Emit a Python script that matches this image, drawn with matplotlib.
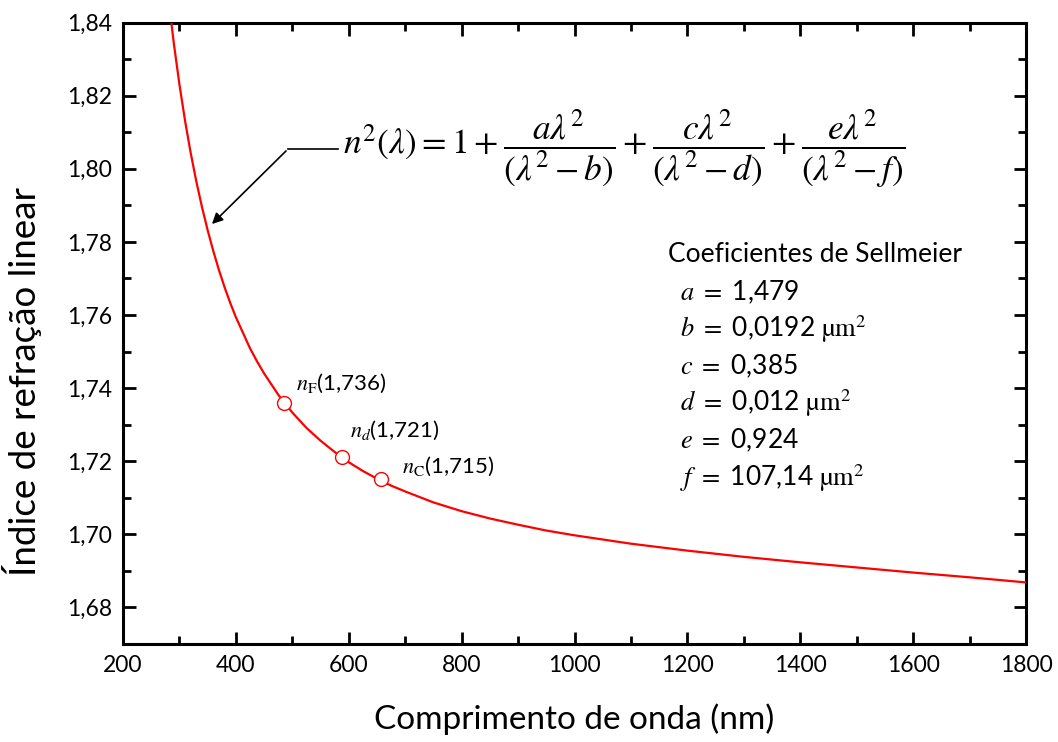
import matplotlib
matplotlib.use("Agg")
import matplotlib.pyplot as plt
from matplotlib.ticker import MultipleLocator, FuncFormatter

# Data (wavelength in nm, linear refractive index)
wavelength_nm = [270, 280, 290, 300, 310, 320, 330, 340, 350, 360, 370, 380, 390,
                 400, 425, 437.5, 450, 475, 500, 525, 550, 575, 600, 625, 650, 675,
                 700, 750, 800, 850, 900, 950, 1000, 1100, 1200, 1300, 1400, 1500,
                 1600, 1700, 1800]
refr_index = [1.8623, 1.8473, 1.8344, 1.8231, 1.8131, 1.8043, 1.7965, 1.7895,
              1.7832, 1.7775, 1.7723, 1.7676, 1.7633, 1.7594, 1.7509, 1.7473,
              1.7440, 1.7382, 1.7333, 1.7291, 1.7256, 1.7225, 1.7197, 1.7173,
              1.7152, 1.7133, 1.7117, 1.7087, 1.7063, 1.7043, 1.7026, 1.7010,
              1.6997, 1.6974, 1.6955, 1.6938, 1.6923, 1.6909, 1.6895, 1.6882,
              1.6868]

# Fraunhofer lines
line_wl = [486.1, 587.6, 656.3]
line_n = [1.736, 1.721, 1.715]
line_labels = [r"$n_{\mathrm{F}}$(1,736)", r"$n_{d}$(1,721)", r"$n_{\mathrm{C}}$(1,715)"]

coef_title = "Coeficientes de Sellmeier"
coef_lines = [r"$a\ =$ 1,479", r"$b\ =$ 0,0192 $\mathrm{µm}^2$", r"$c\ =$ 0,385",
              r"$d\ =$ 0,012 $\mathrm{µm}^2$", r"$e\ =$ 0,924", r"$f\ =$ 107,14 $\mathrm{µm}^2$"]

W, H = 1058, 742
plt.rcParams['font.family'] = ['Lato', 'DejaVu Sans']
plt.rcParams['mathtext.fontset'] = 'stix'

fig = plt.figure(figsize=(W / 100, H / 100), dpi=100)
ax = fig.add_axes([123 / W, 1 - 643.8 / H, (1026 - 123) / W, (643.8 - 22.7) / H])

ax.plot(wavelength_nm, refr_index, color='#ff0000', lw=1.6, zorder=3)
ax.plot(line_wl, line_n, 'o', ms=10, mfc='white', mec='#ff0000', mew=1.0, zorder=4)

ax.set_xlim(200, 1800)
ax.set_ylim(1.67, 1.84)
ax.xaxis.set_major_locator(MultipleLocator(200))
ax.xaxis.set_minor_locator(MultipleLocator(100))
ax.yaxis.set_major_locator(MultipleLocator(0.02))
ax.yaxis.set_minor_locator(MultipleLocator(0.01))
ax.yaxis.set_major_formatter(FuncFormatter(lambda v, p: f"{v:.2f}".replace('.', ',')))
ax.tick_params(which='both', direction='in', top=True, right=True, width=2,
               labelsize=16.5, pad=8)
ax.tick_params(which='major', length=9)
ax.tick_params(which='minor', length=5.5)
for s in ax.spines.values():
    s.set_linewidth(2.2)

ax.set_xlabel("Comprimento de onda (nm)", fontsize=24, labelpad=20)
ax.set_ylabel("Índice de refração linear", fontsize=26.5)
ax.yaxis.set_label_coords((42 - 123) / 903, 1 - (381 - 22.7) / 621.1)

def px(x, y):
    return (x / W, 1 - y / H)

# label for the points
label_pos = [(296, 383), (350, 430), (402, 466)]
for (x, y), t in zip(label_pos, line_labels):
    fig.text(*px(x, y), t, fontsize=16, ha='left', va='center')

# formula
fig.text(*px(343, 150),
         r"$n^2(\lambda)=1+\dfrac{a\lambda^2}{(\lambda^2-b)}+\dfrac{c\lambda^2}{(\lambda^2-d)}+\dfrac{e\lambda^2}{(\lambda^2-f)}$",
         fontsize=25.5, ha='left', va='center')

# annotation arrow
fig.add_artist(plt.Line2D([288 / W, 338 / W], [1 - 149 / H, 1 - 149 / H], color='black', lw=1.2))
ax.annotate("", xy=px(210, 226), xycoords='figure fraction',
            xytext=px(288, 149), textcoords='figure fraction',
            arrowprops=dict(arrowstyle='-|>', color='black', lw=1.2, mutation_scale=16))

# coefficients
fig.text(*px(668, 255), coef_title, fontsize=19, ha='left', va='center')
for i, t in enumerate(coef_lines):
    fig.text(*px(680, 292 + i * 37.2), t, fontsize=19, ha='left', va='center')

fig.savefig("out.png", dpi=100)
